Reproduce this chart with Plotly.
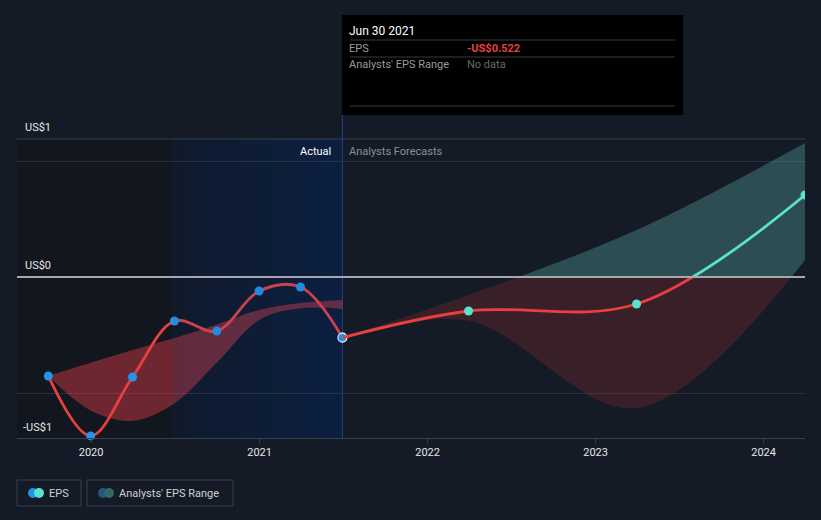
import plotly.graph_objects as go

# ---------------- data ----------------
actual_dates = ["2019-09-30", "2019-12-31", "2020-03-31", "2020-06-30",
                "2020-09-30", "2020-12-31", "2021-03-31", "2021-06-30"]
actual_eps = [-0.853, -1.37, -0.862, -0.379, -0.466, -0.121, -0.086, -0.522]

forecast_dates = ["2021-06-30", "2022-03-31", "2023-03-31", "2024-03-31"]
forecast_eps = [-0.522, -0.293, -0.233, 0.707]
forecast_low = [-0.522, -0.377, -1.13, 0.147]
forecast_high = [-0.522, -0.155, 0.405, 1.155]

past_band_dates = ["2019-09-30", "2019-12-31", "2020-03-31", "2020-06-30",
                   "2020-09-30", "2020-12-31", "2021-03-31", "2021-06-30"]
past_band_low = [-0.853, -1.15, -1.24, -1.09, -0.74, -0.37, -0.27, -0.276]
past_band_high = [-0.853, -0.74, -0.63, -0.526, -0.41, -0.284, -0.224, -0.198]

y_labels = ["US$1", "US$0", "-US$1"]
y_label_values = [1, 0, -1]
year_ticks = ["2020-01-01", "2021-01-01", "2022-01-01", "2023-01-01", "2024-01-01"]

X_RANGE = ["2019-07-24", "2024-03-31"]
Y_TOP, Y_BOT = 1.19, -1.388
Z = (0 - Y_BOT) / (Y_TOP - Y_BOT)

BG = "#151b26"
RED = "#e8403f"
TEAL = "#5ce1cc"
BLUE = "#2394e8"
FONT = "Roboto"

L, R, T, B = 17, 16, 139, 82
W, H = 821, 520
PW, PH = W - L - R, H - T - B


def px(x):
    return (x - L) / PW


def py(y):
    return (H - B - y) / PH


fig = go.Figure()

# past analyst band (below zero only)
fig.add_trace(go.Scatter(x=past_band_dates, y=past_band_low, mode="lines",
                         line=dict(width=0, shape="spline"), hoverinfo="skip",
                         showlegend=False))
fig.add_trace(go.Scatter(x=past_band_dates, y=past_band_high, mode="lines",
                         line=dict(width=0, shape="spline"), fill="tonexty",
                         fillcolor="rgba(215,60,68,0.47)", hoverinfo="skip",
                         showlegend=False))

# actual EPS
fig.add_trace(go.Scatter(x=actual_dates, y=actual_eps, mode="lines",
                         line=dict(color=RED, width=2.8, shape="spline"),
                         hoverinfo="skip", showlegend=False))
fig.add_trace(go.Scatter(x=actual_dates, y=actual_eps, mode="markers",
                         marker=dict(color=BLUE, size=9,
                                     line=dict(color="#ffffff",
                                               width=[0] * (len(actual_eps) - 1) + [1.2])),
                         cliponaxis=False, hoverinfo="skip", showlegend=False))

# forecast band: red part (below zero) on y3, teal part (above zero) on y2
fig.add_trace(go.Scatter(x=forecast_dates, y=forecast_low, mode="lines", yaxis="y3",
                         line=dict(width=0, shape="spline"), hoverinfo="skip",
                         showlegend=False))
fig.add_trace(go.Scatter(x=forecast_dates, y=forecast_high, mode="lines", yaxis="y3",
                         line=dict(width=0, shape="spline"), fill="tonexty",
                         fillcolor="rgba(206,52,48,0.2)", hoverinfo="skip",
                         showlegend=False))
fig.add_trace(go.Scatter(x=forecast_dates, y=forecast_low, mode="lines", yaxis="y2",
                         line=dict(width=0, shape="spline"), hoverinfo="skip",
                         showlegend=False))
fig.add_trace(go.Scatter(x=forecast_dates, y=forecast_high, mode="lines", yaxis="y2",
                         line=dict(width=0, shape="spline"), fill="tonexty",
                         fillcolor="rgba(100,200,185,0.3)", hoverinfo="skip",
                         showlegend=False))

# forecast EPS line: red below zero, teal above zero
fig.add_trace(go.Scatter(x=forecast_dates, y=forecast_eps, mode="lines", yaxis="y3",
                         line=dict(color=RED, width=2.8, shape="spline"),
                         hoverinfo="skip", showlegend=False))
fig.add_trace(go.Scatter(x=forecast_dates, y=forecast_eps, mode="lines", yaxis="y2",
                         line=dict(color=TEAL, width=2.8, shape="spline"),
                         hoverinfo="skip", showlegend=False))
below = [(d, v) for d, v in zip(forecast_dates[1:], forecast_eps[1:]) if v < 0]
above = [(d, v) for d, v in zip(forecast_dates[1:], forecast_eps[1:]) if v >= 0]
fig.add_trace(go.Scatter(x=[d for d, _ in below], y=[v for _, v in below], mode="markers",
                         yaxis="y3", marker=dict(color=TEAL, size=9), cliponaxis=False,
                         hoverinfo="skip", showlegend=False))
fig.add_trace(go.Scatter(x=[d for d, _ in above], y=[v for _, v in above], mode="markers",
                         yaxis="y2", marker=dict(color=TEAL, size=9), cliponaxis=True,
                         hoverinfo="skip", showlegend=False))

shapes = []
# darker past region
shapes.append(dict(type="rect", xref="paper", yref="paper", x0=0, x1=px(173), y0=0, y1=1,
                   fillcolor="rgba(0,0,0,0.17)", line_width=0, layer="below"))
# blue gradient region
n = 10
x_a, x_b = 173, 341.5
c0, c1 = (13, 20, 28), (10, 26, 49)
for i in range(n):
    t = i / (n - 1)
    col = tuple(int(round(c0[k] + (c1[k] - c0[k]) * t)) for k in range(3))
    x1 = x_a + (x_b - x_a) * (i + 1) / n + (0.6 if i < n - 1 else 0)
    shapes.append(dict(type="rect", xref="paper", yref="paper",
                       x0=px(x_a + (x_b - x_a) * i / n), x1=px(x1),
                       y0=0, y1=1, fillcolor="rgb(%d,%d,%d)" % col, line_width=0, layer="below"))
shapes.append(dict(type="rect", xref="paper", yref="paper", x0=px(173), x1=px(341.5), y0=0, y1=1,
                   fillcolor="rgba(30,70,170,0.12)", line_width=0, layer="above"))
# top line
shapes.append(dict(type="line", xref="paper", yref="paper", x0=0, x1=1, y0=1, y1=1,
                   line=dict(color="#3a404b", width=1), layer="below"))
# zero line
shapes.append(dict(type="line", xref="paper", yref="y", x0=0, x1=1, y0=0, y1=0,
                   line=dict(color="#a4a8ae", width=2), layer="above"))
# vertical divider
shapes.append(dict(type="line", xref="x", yref="paper", x0="2021-06-30", x1="2021-06-30",
                   y0=0, y1=py(115), line=dict(color="#1d4780", width=1), layer="below"))

# tooltip
shapes.append(dict(type="rect", xref="paper", yref="paper", x0=px(342), x1=px(683),
                   y0=py(115), y1=py(15), fillcolor="#000000", line_width=0))
for yy in (40, 57, 106):
    shapes.append(dict(type="line", xref="paper", yref="paper", x0=px(350), x1=px(675),
                       y0=py(yy), y1=py(yy), line=dict(color="#3b3b3b", width=1)))

# legend boxes
for x0, x1 in ((17, 81), (87, 233)):
    shapes.append(dict(type="rect", xref="paper", yref="paper", x0=px(x0), x1=px(x1),
                       y0=py(506), y1=py(480), fillcolor="rgba(0,0,0,0)",
                       line=dict(color="#3a404b", width=1)))
for cx, col in ((33, BLUE), (39, TEAL), (103, "#28557a"), (109, "#2f6b66")):
    shapes.append(dict(type="circle", xref="paper", yref="paper", xsizemode="pixel",
                       ysizemode="pixel", xanchor=px(cx), yanchor=py(493),
                       x0=-5, x1=5, y0=-5, y1=5, fillcolor=col, line_width=0))

ann = []


def text(x, y, s, color="#e6e6e6", size=11, anchor="left", weight=None):
    ann.append(dict(xref="paper", yref="paper", x=px(x), y=py(y), text=s, showarrow=False,
                    xanchor=anchor, yanchor="middle",
                    font=dict(family=FONT, size=size, color=color,
                              weight=weight if weight else "normal")))


for lab, v, yy, xx in zip(y_labels, y_label_values, (127, 265, 427), (23, 23, 21)):
    text(xx, yy, lab, color="#e6e6e6", size=11)

text(333, 151, "Actual", color="#ffffff", size=11, anchor="right")
text(347, 151, "Analysts Forecasts", color="#8a8f96", size=11)

text(347, 31, "Jun 30 2021", color="#ffffff", size=12)
text(347, 48, "EPS", color="#9a9a9a", size=11)
text(465, 48, "-US$0.522", color=RED, size=11, weight="bold")
text(347, 65, "Analysts' EPS Range", color="#9a9a9a", size=11)
text(465, 65, "No data", color="#6a6a6a", size=11)

text(47, 493, "EPS", color="#d0d0d0", size=11)
text(117, 493, "Analysts' EPS Range", color="#d0d0d0", size=11)

fig.update_layout(
    width=W, height=H,
    margin=dict(l=L, r=R, t=T, b=B),
    paper_bgcolor=BG, plot_bgcolor="rgba(0,0,0,0)",
    shapes=shapes, annotations=ann,
    showlegend=False,
    hovermode=False,
    xaxis=dict(type="date", range=X_RANGE, tickvals=year_ticks, tickformat="%Y",
               showgrid=False, zeroline=False, showline=True, linecolor="#3a404b",
               linewidth=1, ticks="outside", ticklen=4, tickcolor="#3a404b",
               tickfont=dict(family=FONT, size=11, color="#e6e6e6"), fixedrange=True),
    yaxis=dict(range=[Y_BOT, Y_TOP], domain=[0, 1], tickvals=[-1, 1], showticklabels=False,
               showgrid=True, gridcolor="#2a303b", gridwidth=1, zeroline=False,
               fixedrange=True),
    yaxis2=dict(range=[0, Y_TOP], domain=[Z, 1], anchor="x", showticklabels=False,
                showgrid=False, zeroline=False, showline=False, fixedrange=True),
    yaxis3=dict(range=[Y_BOT, 0], domain=[0, Z], anchor="x", showticklabels=False,
                showgrid=False, zeroline=False, showline=False, fixedrange=True),
)

fig.write_html("out.html", config={"displayModeBar": False},
               post_script="document.body.style.margin='0px';")
